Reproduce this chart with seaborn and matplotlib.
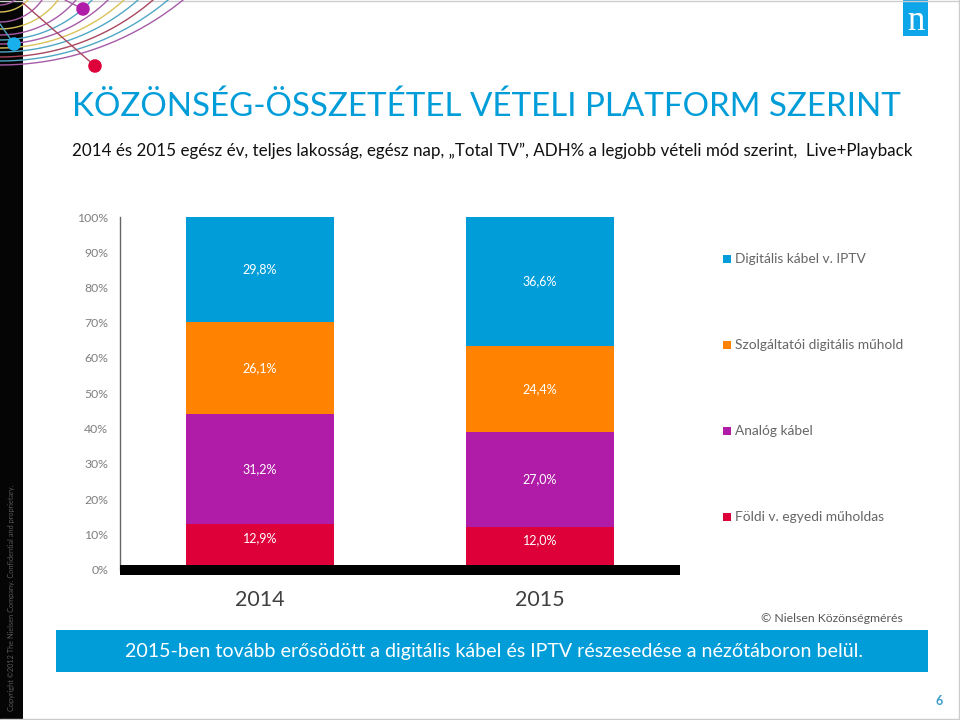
import numpy as np
import pandas as pd
import matplotlib.pyplot as plt
from matplotlib.patches import Rectangle
import seaborn as sns

years = ['2014', '2015']
foldi = [12.9, 12.0]
analog = [31.2, 27.0]
muhold = [26.1, 24.4]
digitalis = [29.8, 36.6]
series_names = ['Földi v. egyedi műholdas', 'Analóg kábel',
                'Szolgáltatói digitális műhold', 'Digitális kábel v. IPTV']
series_values = [foldi, analog, muhold, digitalis]
series_colors = ['#DD0039', '#B01CA8', '#FF8200', '#009DD9']
y_ticks = [0, 10, 20, 30, 40, 50, 60, 70, 80, 90, 100]

sns.set_theme(style='white')
plt.rcParams['font.family'] = ['Lato', 'DejaVu Sans']

fig = plt.figure(figsize=(9.6, 7.2), dpi=100)

# dia hatter, pixel koordinatakkal
bg = fig.add_axes([0, 0, 1, 1])
bg.set_xlim(0, 960)
bg.set_ylim(720, 0)
bg.axis('off')
bg.add_patch(Rectangle((0, 0), 23, 720, color='#050505', lw=0))
bg.plot([0, 960], [0.5, 0.5], color='#cccccc', lw=1)
bg.plot([959, 959], [0, 720], color='#cccccc', lw=1)
bg.plot([0, 960], [719, 719], color='#cccccc', lw=1)

# ivek a bal felso sarokban: hol metszik a felso es a bal szelet
arc_top = [183, 168, 153, 138, 124, 108, 92, 76, 58, 42, 28, 15]
arc_left = [65, 61, 57, 52, 48, 44, 40, 35, 29, 22, 12, 5]
arc_colors = ['#A65BA8', '#4FA6C4', '#A8475F', '#4FA6C4', '#D9C25A', '#A65BA8',
              '#4FA6C4', '#A65BA8', '#D9C25A', '#A65BA8', '#D9C25A', '#A65BA8']
t = np.linspace(0, np.pi / 2, 200)
for X, Y, c in zip(arc_top, arc_left, arc_colors):
    cy = (X ** 2 - Y ** 2) / (2 * Y)
    r = Y + cy
    bg.plot(r * np.sin(t), -cy + r * np.cos(t), color=c, lw=1)
bg.plot([23, 95], [3, 66], color='#A8475F', lw=1)
bg.plot([65, 83], [0, 9], color='#A65BA8', lw=1)
bg.plot([0, 14], [24, 44], color='#4FA6C4', lw=1)
bg.scatter([95, 83, 14], [66, 9, 44], s=95, zorder=5, linewidths=0,
           color=['#DD0039', '#B01CA8', '#1AB0EE'])

# Nielsen logo
bg.add_patch(Rectangle((903, 0), 25, 36, color='#0FA5E9', lw=0))
bg.text(915.5, 22, 'n', color='white', fontsize=25, family='Liberation Serif',
        ha='center', va='center')

bg.text(12, 711, 'Copyright ©2012 The Nielsen Company. Confidential and proprietary.',
        color='#5a5a5a', fontsize=5.35, rotation=90, ha='center', va='bottom')

bg.text(72, 107, 'KÖZÖNSÉG-ÖSSZETÉTEL VÉTELI PLATFORM SZERINT', color='#009DD9',
        fontsize=23.9, ha='left', va='center')
bg.text(72, 151, '2014 és 2015 egész év, teljes lakosság, egész nap, „Total TV”, ADH% a legjobb vételi mód szerint,  Live+Playback',
        color='#111111', fontsize=12.23, ha='left', va='center')

# oszlopok
ax = fig.add_axes([120 / 960, 1 - 569.5 / 720, 560 / 960, 352.5 / 720])
df = pd.DataFrame({'ev': years})
bottom = np.zeros(len(years))
for k, (name, vals, col) in enumerate(zip(series_names, series_values, series_colors)):
    sns.barplot(data=df.assign(v=vals), x='ev', y='v', color=col, width=0.532,
                bottom=bottom, saturation=1, ax=ax, errorbar=None, linewidth=0)
    # a legalso cimke feljebb ul, a fekete alapvonal miatt
    shift = 6 if k == 0 else 0
    for i, v in enumerate(vals):
        ax.annotate(f'{v:.1f}'.replace('.', ',') + '%', (i, bottom[i] + v / 2),
                    xytext=(0, shift), textcoords='offset points',
                    ha='center', va='center', color='white', fontsize=9)
    bottom += np.array(vals)

ax.set_xlim(-0.5, 1.5)
ax.set_ylim(0, 100)
ax.set_xlabel('')
ax.set_ylabel('')
ax.set_yticks(y_ticks)
ax.set_yticklabels([f'{v}%' for v in y_ticks], color='#7f7f7f', fontsize=8.8)
ax.tick_params(axis='y', length=0, pad=8.6)
ax.tick_params(axis='x', length=0, pad=15)
ax.set_xticks([0, 1])
ax.set_xticklabels(years, color='#404040', fontsize=15.5)
ax.patch.set_alpha(0)
sns.despine(ax=ax, top=True, right=True)
ax.spines['left'].set_color('#666666')
ax.spines['left'].set_linewidth(1)
# vastag fekete alapvonal
ax.spines['bottom'].set_color('black')
ax.spines['bottom'].set_linewidth(7.2)
ax.spines['bottom'].set_capstyle('butt')

# jelmagyarazat a sorozatok melle
legend_y = [517, 431, 345, 259]
for name, col, ly in zip(series_names, series_colors, legend_y):
    bg.add_patch(Rectangle((723, ly - 4), 8, 8, color=col, lw=0))
    bg.text(735, ly, name, color='#666666', fontsize=9.9, ha='left', va='center')

bg.text(761, 619, '© Nielsen Közönségmérés', color='#555555', fontsize=8.8,
        ha='left', va='center')

# also kiemelo sav
bg.add_patch(Rectangle((56, 630), 872, 42, color='#009DD9', lw=0))
bg.text(125, 652, '2015-ben tovább erősödött a digitális kábel és IPTV részesedése a nézőtáboron belül.',
        color='white', fontsize=14.1, ha='left', va='center')
bg.text(939, 701, '6', color='#3D9CC8', fontsize=9, fontweight='bold',
        ha='center', va='center')

fig.savefig('out.png', dpi=100)
